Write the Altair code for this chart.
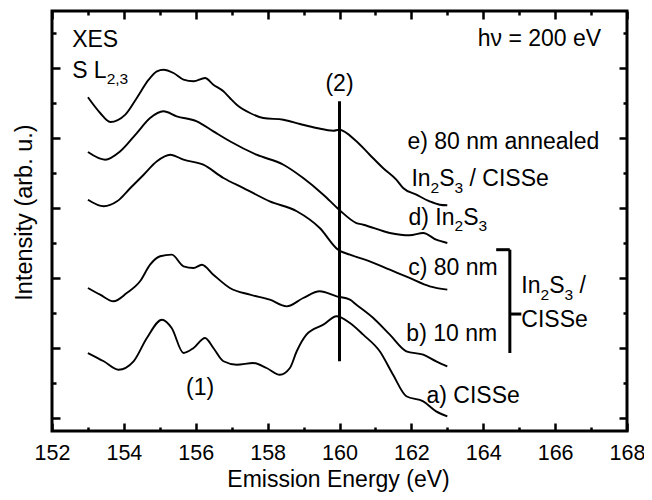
import altair as alt
import pandas as pd

# ---------------- data ----------------
a_energy = [153.0, 153.44, 153.85, 154.27, 154.64, 155.06, 155.33, 155.66, 155.94, 156.26, 156.49, 156.77,
            157.14, 157.60, 157.97, 158.34, 158.62, 158.81, 159.08, 159.55, 159.92, 160.29, 160.66, 161.12,
            161.49, 161.86, 162.33, 162.69, 163.0]
a_intensity = [0.924, 0.806, 0.686, 0.806, 1.139, 1.400, 1.281, 0.924, 0.996, 1.139, 0.996, 0.806,
               0.757, 0.781, 0.710, 0.614, 0.710, 0.949, 1.186, 1.329, 1.449, 1.353, 1.186, 0.949,
               0.614, 0.306, 0.234, 0.091, 0.020]

b_energy = [153.0, 153.34, 153.71, 154.08, 154.45, 154.73, 155.01, 155.33, 155.66, 155.94, 156.17, 156.49,
            156.95, 157.51, 158.06, 158.53, 158.99, 159.45, 159.92, 160.29, 160.47, 160.94, 161.40, 161.86,
            162.33, 162.69, 163.0]
b_intensity = [1.853, 1.757, 1.663, 1.781, 1.949, 2.186, 2.306, 2.329, 2.163, 2.139, 2.186, 2.043,
               1.853, 1.757, 1.686, 1.591, 1.710, 1.806, 1.734, 1.686, 1.614, 1.424, 1.186, 0.949,
               0.900, 0.806, 0.734]

c_energy = [153.0, 153.44, 153.81, 154.18, 154.55, 154.92, 155.29, 155.66, 156.21, 156.77, 157.33, 158.06,
            158.81, 159.45, 159.96, 160.29, 160.84, 161.40, 161.95, 162.51, 163.0]
c_intensity = [3.114, 3.020, 3.091, 3.281, 3.471, 3.663, 3.757, 3.686, 3.614, 3.424, 3.281, 3.091,
               2.949, 2.710, 2.400, 2.329, 2.234, 2.114, 1.996, 1.877, 1.829]

d_energy = [153.0, 153.48, 153.90, 154.36, 154.73, 155.10, 155.47, 156.03, 156.49, 156.95, 157.69, 158.44,
            158.99, 159.55, 159.99, 160.47, 160.66, 161.40, 161.95, 162.33, 162.69, 163.0]
d_intensity = [3.796, 3.686, 3.806, 4.067, 4.281, 4.377, 4.306, 4.234, 4.091, 3.949, 3.757, 3.614,
               3.424, 3.186, 2.971, 2.781, 2.757, 2.639, 2.606, 2.639, 2.543, 2.496]

e_energy = [153.0, 153.34, 153.62, 154.04, 154.36, 154.69, 154.92, 155.10, 155.38, 155.66, 155.94, 156.26,
            156.49, 156.77, 156.95, 157.14, 157.51, 157.88, 158.44, 158.90, 159.36, 159.83, 159.99, 160.47,
            160.84, 161.21, 161.58, 161.77, 162.14, 162.51, 162.79, 163.0]
e_intensity = [4.577, 4.353, 4.224, 4.329, 4.567, 4.829, 4.949, 4.971, 4.924, 4.829, 4.806, 4.853,
               4.757, 4.663, 4.567, 4.471, 4.353, 4.281, 4.257, 4.196, 4.139, 4.100, 4.114, 3.949,
               3.757, 3.567, 3.400, 3.281, 3.186, 3.091, 3.043, 3.034]

series_names = ["a", "b", "c", "d", "e"]
x_ticks = list(range(152, 169))
y_ticks = [i * 0.5 for i in range(12)]

# marker line (2) and bracket
rule_x = [160.0, 164.74, 164.36, 164.74]
rule_x2 = [160.0, 164.74, 164.74, 165.06]
rule_y = [4.52, 2.40, 2.40, 1.481]
rule_y2 = [0.806, 0.924, 2.40, 1.481]

# ---------------- layout constants ----------------
FONT = "Liberation Sans"
W, H = 575, 420
X_DOMAIN = [152, 168]
Y_DOMAIN = [-0.19, 5.81]
PX_X = W / (X_DOMAIN[1] - X_DOMAIN[0])
PX_Y = H / (Y_DOMAIN[1] - Y_DOMAIN[0])
MAIN, SUB, SUB_DROP = 23, 15.5, 6.5

WIDTHS = {" ": 278, "(": 333, ")": 333, "/": 278, ",": 278, ".": 278, "=": 584,
          "a": 556, "b": 556, "c": 500, "d": 556, "e": 556, "h": 556, "l": 222, "m": 833, "n": 556,
          "u": 556, "I": 278, "C": 722, "S": 667, "L": 556, "V": 667, "X": 667, "E": 667, "ν": 500}


def twidth(s, size):
    return sum(WIDTHS.get(ch, 556) for ch in s) / 1000.0 * size


def pieces(x, y, segments):
    rows, off = [], 0.0
    for t, sub in segments:
        size = SUB if sub else MAIN
        lead = len(t) - len(t.lstrip(" "))
        off += twidth(" " * lead, size)
        t = t.lstrip(" ")
        rows.append({"x": x + off / PX_X, "y": y - (SUB_DROP / PX_Y if sub else 0.0), "text": t, "size": size})
        off += twidth(t, size)
    return rows


left_rows = []
left_rows += pieces(152.56, 5.296, [("XES", False)])
left_rows += pieces(152.56, 4.853, [("S L", False), ("2,3", True)])
left_rows += pieces(161.89, 3.839, [("e) 80 nm annealed", False)])
left_rows += pieces(162.0, 3.31, [("In", False), ("2", True), ("S", False), ("3", True), (" / CISSe", False)])
left_rows += pieces(161.92, 2.753, [("d) In", False), ("2", True), ("S", False), ("3", True)])
left_rows += pieces(161.91, 2.039, [("c) 80 nm", False)])
left_rows += pieces(161.86, 1.096, [("b) 10 nm", False)])
left_rows += pieces(162.42, 0.21, [("a) CISSe", False)])
left_rows += pieces(165.06, 1.781, [("In", False), ("2", True), ("S", False), ("3", True), (" /", False)])
left_rows += pieces(165.06, 1.296, [("CISSe", False)])
left_df = pd.DataFrame(left_rows)

center_df = pd.DataFrame({"x": [160.0, 156.12], "y": [4.667, 0.324], "text": ["(2)", "(1)"]})
right_df = pd.DataFrame({"x": [167.28], "y": [5.31], "text": ["hν = 200 eV"]})

rows = []
for name, xs, ys in zip(series_names,
                        [a_energy, b_energy, c_energy, d_energy, e_energy],
                        [a_intensity, b_intensity, c_intensity, d_intensity, e_intensity]):
    for xv, yv in zip(xs, ys):
        rows.append({"series": name, "energy": xv, "intensity": yv})
df = pd.DataFrame(rows)
rules_df = pd.DataFrame({"x": rule_x, "x2": rule_x2, "y": rule_y, "y2": rule_y2})

xscale = alt.Scale(domain=X_DOMAIN, nice=False, zero=False)
yscale = alt.Scale(domain=Y_DOMAIN, nice=False, zero=False)

X_TITLE = "Emission Energy (eV)"
Y_TITLE = "Intensity (arb. u.)"

x_axis = alt.Axis(
    values=x_ticks,
    labelExpr="datum.value % 2 === 0 ? datum.label : ''",
    ticks=False, domain=False, grid=True, gridColor="black", gridOpacity=1, gridWidth=2.5,
    gridDash={"condition": {"test": "datum.value % 2 === 0", "value": [8, H - 16]}, "value": [4, H - 8]},
    labelFont=FONT, labelFontSize=21.5, labelColor="black", labelPadding=11, labelFlush=False,
    labelOverlap=False,
    title=X_TITLE, titleFont=FONT, titleFontSize=23, titleFontWeight="normal",
    titleColor="black", titlePadding=5, titleX=286,
)
y_axis = alt.Axis(
    values=y_ticks, labels=False,
    ticks=False, domain=False, grid=True, gridColor="black", gridOpacity=1, gridWidth=2.5,
    gridDash={"condition": {"test": "datum.value % 1 === 0", "value": [8, W - 16]}, "value": [4, W - 8]},
    title=Y_TITLE, titleFont=FONT, titleFontSize=23.5, titleFontWeight="normal",
    titleColor="black", titlePadding=16, titleY=201,
)


def xenc(field):
    return alt.X(field, type="quantitative", scale=xscale, axis=x_axis, title=X_TITLE)


def yenc(field):
    return alt.Y(field, type="quantitative", scale=yscale, axis=y_axis, title=Y_TITLE)


lines = alt.Chart(df).mark_line(color="black", strokeWidth=1.9, interpolate="monotone").encode(
    x=xenc("energy"), y=yenc("intensity"), detail="series:N",
)
rules = alt.Chart(rules_df).mark_rule(color="black", strokeWidth=3).encode(
    x=xenc("x"), x2="x2:Q", y=yenc("y"), y2="y2:Q",
)
left_text = alt.Chart(left_df).mark_text(align="left", baseline="alphabetic", font=FONT, color="black").encode(
    x=xenc("x"), y=yenc("y"), text="text:N",
    size=alt.Size("size:Q", scale=None, legend=None),
)
center_text = alt.Chart(center_df).mark_text(align="center", baseline="alphabetic", font=FONT,
                                             fontSize=MAIN, color="black").encode(
    x=xenc("x"), y=yenc("y"), text="text:N",
)
right_text = alt.Chart(right_df).mark_text(align="right", baseline="alphabetic", font=FONT,
                                           fontSize=MAIN, color="black").encode(
    x=xenc("x"), y=yenc("y"), text="text:N",
)

chart = alt.layer(lines, rules, left_text, center_text, right_text).properties(
    width=W, height=H,
    autosize=alt.AutoSizeParams(type="none"),
    padding={"left": 44, "top": 3, "right": 17, "bottom": 61},
).configure_view(stroke="black", strokeWidth=3)

chart.save("out.html", embed_options={"renderer": "svg", "actions": False})
